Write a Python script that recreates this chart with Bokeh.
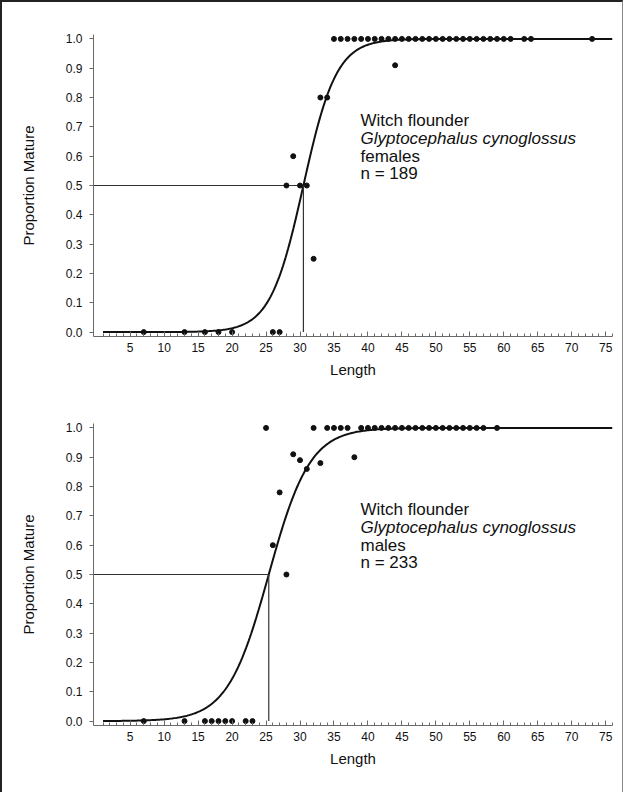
import numpy as np
from bokeh.plotting import figure
from bokeh.models import FixedTicker, Range1d, Label
from bokeh.layouts import column
from bokeh.embed import file_html
from bokeh.resources import INLINE

FONT = "Liberation Sans"

# ---- axis ticks ----
y_ticks = [0.0, 0.1, 0.2, 0.3, 0.4, 0.5, 0.6, 0.7, 0.8, 0.9, 1.0]
y_tick_labels = ["0.0", "0.1", "0.2", "0.3", "0.4", "0.5", "0.6", "0.7", "0.8", "0.9", "1.0"]
x_ticks = [5, 10, 15, 20, 25, 30, 35, 40, 45, 50, 55, 60, 65, 70, 75]
x_tick_labels = ["5", "10", "15", "20", "25", "30", "35", "40", "45", "50", "55", "60", "65", "70", "75"]
x_minor = list(range(1, 77))

# ---- females ----
fem_len = [7, 13, 16, 18, 20, 26, 27,
           32,
           28, 30, 31,
           29,
           33, 34,
           44,
           35, 36, 37, 38, 39, 40, 41, 42, 43, 44, 45, 46, 47, 48, 49, 50,
           51, 52, 53, 54, 55, 56, 57, 58, 59, 60, 61, 63, 64, 73]
fem_prop = [0.0, 0.0, 0.0, 0.0, 0.0, 0.0, 0.0,
            0.25,
            0.5, 0.5, 0.5,
            0.6,
            0.8, 0.8,
            0.91,
            1.0, 1.0, 1.0, 1.0, 1.0, 1.0, 1.0, 1.0, 1.0, 1.0, 1.0, 1.0, 1.0, 1.0, 1.0, 1.0,
            1.0, 1.0, 1.0, 1.0, 1.0, 1.0, 1.0, 1.0, 1.0, 1.0, 1.0, 1.0, 1.0, 1.0]
fem_L50 = 30.5
fem_slope = 0.41
fem_label = ["Witch flounder", "Glyptocephalus cynoglossus", "females", "n = 189"]

# ---- males ----
male_len = [7, 13, 16, 17, 18, 19, 20, 22, 23,
            28, 26, 27, 29, 30, 31, 33, 38,
            25, 32, 34, 35, 36, 37, 39, 40, 41, 42, 43, 44, 45, 46, 47, 48,
            49, 50, 51, 52, 53, 54, 55, 56, 57, 59]
male_prop = [0.0, 0.0, 0.0, 0.0, 0.0, 0.0, 0.0, 0.0, 0.0,
             0.5, 0.6, 0.78, 0.91, 0.89, 0.86, 0.88, 0.90,
             1.0, 1.0, 1.0, 1.0, 1.0, 1.0, 1.0, 1.0, 1.0, 1.0, 1.0, 1.0, 1.0, 1.0, 1.0, 1.0,
             1.0, 1.0, 1.0, 1.0, 1.0, 1.0, 1.0, 1.0, 1.0, 1.0]
male_L50 = 25.4
male_slope = 0.33
male_label = ["Witch flounder", "Glyptocephalus cynoglossus", "males", "n = 233"]

X_START, X_END = -0.4, 76.0
Y_START, Y_END = -0.015, 1.015
INK = "#111111"
AXIS = "#6a6a6a"


def make_panel(lengths, props, L50, slope, labels, height, border_top, border_bottom):
    p = figure(width=620, height=height, output_backend="svg", toolbar_location=None,
               x_range=Range1d(X_START, X_END), y_range=Range1d(Y_START, Y_END),
               min_border_left=91, min_border_right=10,
               min_border_top=border_top, min_border_bottom=border_bottom)
    p.outline_line_color = None
    p.grid.visible = False
    p.background_fill_color = "white"
    p.border_fill_color = "white"

    # fitted logistic maturity ogive (parameters)
    xc = np.linspace(1.0, 76.0, 400)
    yc = 1.0 / (1.0 + np.exp(-slope * (xc - L50)))
    p.line(xc, yc, line_color=INK, line_width=2)

    # L50 reference lines
    p.line([X_START, L50], [0.5, 0.5], line_color="#333333", line_width=1.2)
    p.line([L50, L50], [0.0, 0.5], line_color="#333333", line_width=1.2)

    # observations
    p.scatter(lengths, props, size=5, fill_color=INK, line_color=INK)

    # y axis
    ya = p.yaxis[0]
    ya.ticker = FixedTicker(ticks=y_ticks)
    ya.major_label_overrides = {t: s for t, s in zip(y_ticks, y_tick_labels)}
    ya.axis_label = "Proportion Mature"
    ya.axis_label_text_font = FONT
    ya.axis_label_text_font_size = "15px"
    ya.axis_label_text_font_style = "normal"
    ya.axis_label_text_color = INK
    ya.axis_label_standoff = 26
    ya.major_label_text_font = FONT
    ya.major_label_text_font_size = "12px"
    ya.major_label_text_color = INK
    ya.major_label_standoff = 7
    ya.axis_line_color = AXIS
    ya.major_tick_line_color = AXIS
    ya.major_tick_out = 4
    ya.major_tick_in = 0
    ya.minor_tick_line_color = None

    # x axis
    xa = p.xaxis[0]
    xa.ticker = FixedTicker(ticks=x_ticks, minor_ticks=x_minor)
    xa.major_label_overrides = {t: s for t, s in zip(x_ticks, x_tick_labels)}
    xa.axis_label = "Length"
    xa.axis_label_text_font = FONT
    xa.axis_label_text_font_size = "15px"
    xa.axis_label_text_font_style = "normal"
    xa.axis_label_text_color = INK
    xa.axis_label_standoff = 6
    xa.major_label_text_font = FONT
    xa.major_label_text_font_size = "12px"
    xa.major_label_text_color = INK
    xa.major_label_standoff = 6
    xa.axis_line_color = AXIS
    xa.major_tick_line_color = AXIS
    xa.major_tick_in = 5
    xa.major_tick_out = 0
    xa.minor_tick_line_color = AXIS
    xa.minor_tick_in = 3
    xa.minor_tick_out = 0

    # annotation block
    ys = [0.72, 0.66, 0.60, 0.54]
    for i, (txt, yv) in enumerate(zip(labels, ys)):
        p.add_layout(Label(x=38.9, y=yv, text=txt, text_font=FONT, text_font_size="17px",
                           text_color=INK, text_baseline="middle",
                           text_font_style="italic" if i == 1 else "normal"))
    return p


p1 = make_panel(fem_len, fem_prop, fem_L50, fem_slope, fem_label, 380, 32, 46)
p2 = make_panel(male_len, male_prop, male_L50, male_slope, male_label, 410, 41, 67)

layout = column(p1, p2, spacing=0,
                styles={"border-left": "2px solid #222", "border-top": "2px solid #222",
                        "border-right": "1px solid #888"})

with open("out.html", "w") as f:
    f.write(file_html(layout, INLINE))
